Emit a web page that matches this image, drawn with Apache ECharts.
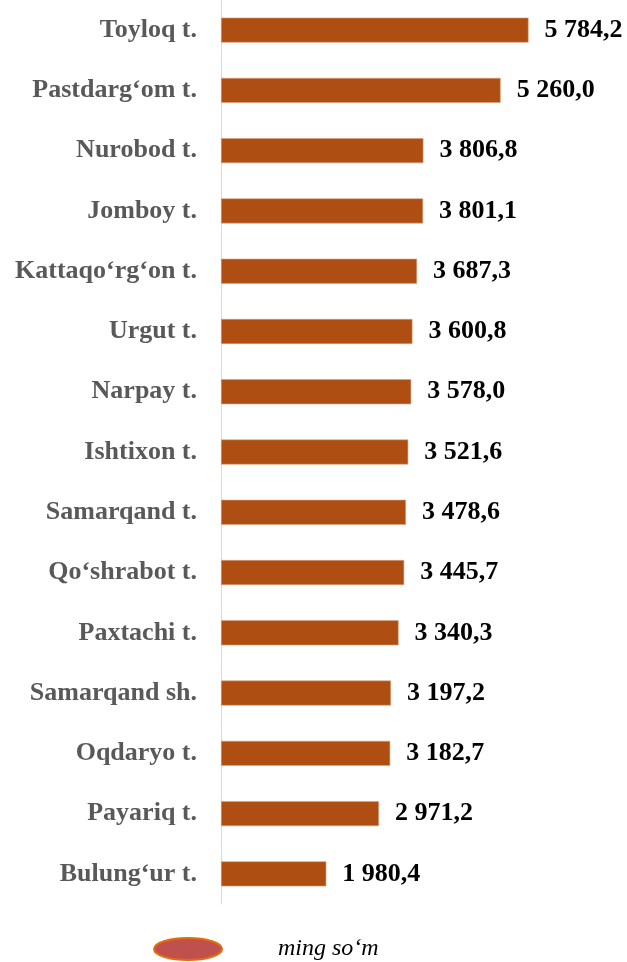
<!DOCTYPE html>
<html>
<head>
<meta charset="utf-8">
<script src="https://cdn.jsdelivr.net/npm/echarts@6/dist/echarts.min.js"></script>
<style>
  html, body { margin: 0; padding: 0; background: #fff; }
  #chart { width: 627px; height: 962px; }
</style>
</head>
<body>
<div id="chart"></div>
<script>
// districts, top to bottom
const districts = [
  'Toyloq t.', 'Pastdarg‘om t.', 'Nurobod t.', 'Jomboy t.', 'Kattaqo‘rg‘on t.',
  'Urgut t.', 'Narpay t.', 'Ishtixon t.', 'Samarqand t.', 'Qo‘shrabot t.',
  'Paxtachi t.', 'Samarqand sh.', 'Oqdaryo t.', 'Payariq t.', 'Bulung‘ur t.'
]
const values = [
  5784.2, 5260.0, 3806.8, 3801.1, 3687.3,
  3600.8, 3578.0, 3521.6, 3478.6, 3445.7,
  3340.3, 3197.2, 3182.7, 2971.2, 1980.4
]
const seriesName = 'ming so‘m'

const fmt = v => {
  const [i, d] = v.toFixed(1).split('.')
  return i.replace(/\B(?=(\d{3})+(?!\d))/g, ' ') + ',' + d
}

const chart = echarts.init(document.getElementById('chart'))

const option = {
  animation: false,
  textStyle: { fontFamily: 'Liberation Serif' },
  grid: {
    left: 221,
    right: 87,
    top: -2,
    height: 906
  },
  legend: {
    data: [{
      name: seriesName,
      icon: 'path://M0,25 A50,25 0 1,1 100,25 A50,25 0 1,1 0,25 Z',
      itemStyle: { color: '#C0504D', borderColor: '#E46C0A', borderWidth: 2 }
    }],
    symbolKeepAspect: false,
    left: 153,
    top: 937,
    padding: 0,
    itemWidth: 68,
    itemHeight: 22,
    textStyle: {
      fontFamily: 'Liberation Serif',
      fontStyle: 'italic',
      fontSize: 24,
      color: '#000',
      padding: [0, 0, 0, 51]
    }
  },
  xAxis: {
    type: 'value',
    min: 0,
    max: 6000,
    show: false
  },
  yAxis: {
    type: 'category',
    data: districts,
    inverse: true,
    axisLine: { show: true, lineStyle: { color: '#D9D9D9', width: 1 } },
    axisTick: { show: false },
    axisLabel: {
      margin: 24,
      fontFamily: 'Liberation Serif',
      fontWeight: 'bold',
      fontSize: 26,
      color: '#595959'
    }
  },
  series: [{
    name: seriesName,
    type: 'bar',
    data: values,
    barWidth: 25,
    itemStyle: { color: '#AE4E13', borderColor: '#D8A27F', borderWidth: 0.6 },
    label: {
      show: true,
      position: 'right',
      distance: 16,
      fontFamily: 'Liberation Serif',
      fontWeight: 'bold',
      fontSize: 26,
      color: '#000',
      formatter: p => fmt(p.value)
    }
  }]
}

chart.setOption(option)
</script>
</body>
</html>
